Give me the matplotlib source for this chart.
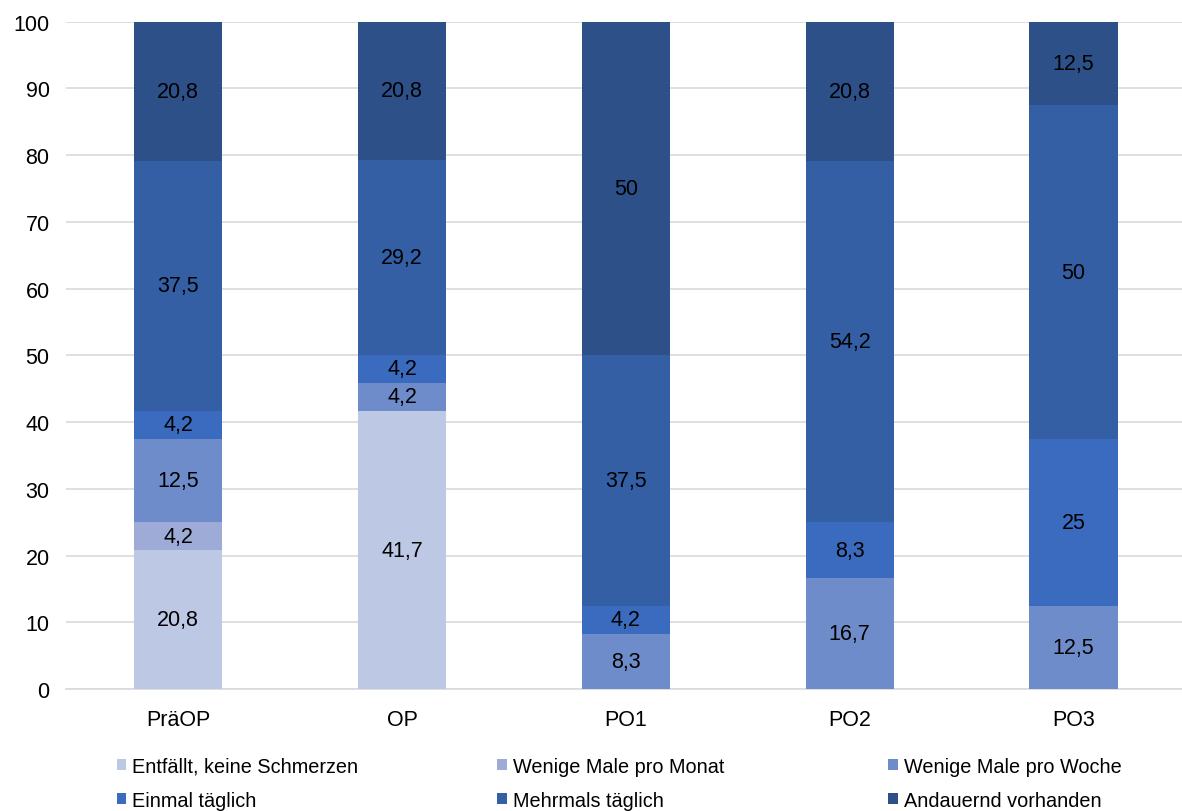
import numpy as np
import matplotlib.pyplot as plt

plt.rcParams['font.family'] = ['Liberation Sans', 'DejaVu Sans']

zeitpunkte = ['PräOP', 'OP', 'PO1', 'PO2', 'PO3']
kategorien = ['Entfällt, keine Schmerzen', 'Wenige Male pro Monat', 'Wenige Male pro Woche',
              'Einmal täglich', 'Mehrmals täglich', 'Andauernd vorhanden']

entfaellt = [20.8, 41.7, 0, 0, 0]
pro_monat = [4.2, 0, 0, 0, 0]
pro_woche = [12.5, 4.2, 8.3, 16.7, 12.5]
einmal = [4.2, 4.2, 4.2, 8.3, 25]
mehrmals = [37.5, 29.2, 37.5, 54.2, 50]
andauernd = [20.8, 20.8, 50, 20.8, 12.5]

farben = ['#bdc8e4', '#9eabd7', '#6f8cca', '#3b6bbf', '#345fa5', '#2d5089']

werte = [entfaellt, pro_monat, pro_woche, einmal, mehrmals, andauernd]

fig, ax = plt.subplots(figsize=(11.82, 8.12), dpi=100)
fig.subplots_adjust(left=0.056, right=1.003, top=0.972, bottom=0.15)

x = np.arange(len(zeitpunkte))
unten = np.zeros(len(zeitpunkte))
for name, w, f in zip(kategorien, werte, farben):
    w = np.array(w, dtype=float)
    ax.bar(x, w, 0.395, bottom=unten, color=f, label=name, zorder=3)
    for xi, yi, v in zip(x, unten, w):
        if v > 0:
            ax.text(xi, yi + v / 2, f'{v:g}'.replace('.', ','), ha='center', va='center',
                    fontsize=15.5, color='black', zorder=4)
    unten += w

ax.set_xlim(-0.5, 4.5)
ax.set_ylim(0, 100)
ax.set_yticks(range(0, 101, 10))
ax.set_xticks(x)
ax.set_xticklabels(zeitpunkte)
ax.grid(axis='y', color='#d9d9d9', linewidth=1.2, zorder=0)
for s in ['top', 'right', 'left']:
    ax.spines[s].set_visible(False)
ax.spines['bottom'].set_color('#d9d9d9')
ax.spines['bottom'].set_linewidth(1.2)
ax.tick_params(axis='both', length=0, labelsize=15.5, colors='black')
ax.tick_params(axis='y', pad=12)
ax.tick_params(axis='x', pad=14)

# Legende in drei gleich breiten Spalten (je zwei Einträge)
handles, labels = ax.get_legend_handles_labels()
spalten_x = [0.029, 0.3686, 0.7184]
for k, sx in enumerate(spalten_x):
    leg = ax.legend([handles[k], handles[k + 3]], [labels[k], labels[k + 3]],
                    loc='upper left', bbox_to_anchor=(sx, -0.0745), frameon=False,
                    fontsize=14.3, handlelength=0.5, handleheight=0.5, handletextpad=0.3,
                    labelspacing=0.75)
    if k < 2:
        ax.add_artist(leg)

fig.savefig('out.png', dpi=100)
